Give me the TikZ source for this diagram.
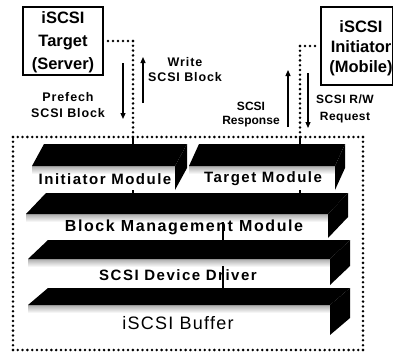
\documentclass[tikz,border=0pt]{standalone}
\usepackage{fontspec}
\setmainfont{Liberation Sans}
\newfontfamily\wideA[LetterSpace=10]{Liberation Sans}
\newfontfamily\wideB[LetterSpace=7]{Liberation Sans}
\newfontfamily\wideC[LetterSpace=4]{Liberation Sans}
\usetikzlibrary{arrows.meta}

% one layer block: left, right, top, bottom of the front face, then depth dx, dy
\newcommand\layerslab[6]{%
  \fill[white] (#1,#3) rectangle (#2,#4);
  \shade[top color=gray!65, bottom color=white] (#1,#3) rectangle (#2,{#3+8});
  \fill[black] (#1,#3) -- ({#1+#5},{#3-#6}) -- ({#2+#5},{#3-#6}) -- (#2,#3) -- cycle;
  \fill[black] (#2,#3) -- ({#2+#5},{#3-#6}) -- ({#2+#5},{#4-#6}) -- (#2,#4) -- cycle;
}

% a row of round dots from (#1,#2) to (#3,#4), #5 gaps
\newcommand\dotrow[5]{%
  \foreach \k in {0,...,#5}{
    \fill[black] ({#1+(#3-#1)/#5*\k},{#2+(#4-#2)/#5*\k}) circle (1.4pt);
  }%
}

\tikzset{
  flow/.style={line width=1.2pt, -{Triangle[length=6pt,width=5pt]}},
  stem/.style={line width=1.2pt},
  endbox/.style={draw, line width=1.5pt, inner sep=0pt},
  boxtext/.style={inner sep=0pt, align=center},
  slabtext/.style={inner sep=0pt, font=\wideA\bfseries\fontsize{15}{18}\selectfont},
  lab/.style={inner sep=0pt, align=center}
}

\begin{document}
\begin{tikzpicture}[x=1pt,y=-1pt]
\useasboundingbox (0,0) rectangle (393,353);
\fill[white] (0,0) rectangle (393,353);

% end points
\node[endbox, minimum width=80pt, minimum height=68pt] (tgt) at (63,41) {};
\node[boxtext, font=\bfseries\fontsize{16.5}{23}\selectfont] (tgttxt) at (63,42) {iSCSI\\Target\\(Server)};
\node[endbox, minimum width=71.5pt, minimum height=78pt] (ini) at (356.75,46) {};
\node[boxtext, font=\bfseries\fontsize{16.5}{20}\selectfont] (initxt) at (361,48) {iSCSI\\Initiator\\(Mobile)};

% the host frame, dotted
\dotrow{13}{137}{363}{137}{73}
\dotrow{363}{137}{363}{350}{44}
\dotrow{13}{350}{363}{350}{73}
\dotrow{13}{137}{13}{350}{44}

% dotted links entering the frame
\dotrow{108}{41}{133}{41}{5}
\dotrow{133}{41}{133}{137}{20}
\dotrow{315}{46}{300}{46}{3}
\dotrow{300}{46}{300}{137}{19}

\coordinate (sL0) at (133,137);
\coordinate (sL1) at (133,196);
\coordinate (sR0) at (300,137);
\coordinate (sR1) at (300,214);
\draw[stem] (sL0) -- (sL1);
\draw[stem] (sR0) -- (sR1);

% layers
\layerslab{32}{175}{166}{190}{12}{22}
\layerslab{189}{335}{166}{190}{10}{22}
\layerslab{26}{328}{214}{238}{20}{21}
\layerslab{28}{330}{259}{285}{20}{19}
\layerslab{28}{330}{305}{335}{20}{17}

\coordinate (sM0) at (223,222);
\coordinate (sM1) at (223,243);
\coordinate (sM2) at (223,266);
\coordinate (sM3) at (223,290);
\draw[stem] (sM0) -- (sM1);
\draw[stem] (sM2) -- (sM3);

\node[slabtext] (im) at (105,179) {Initiator Module};
\node[slabtext] (tm) at (263,179) {Target Module};
\node[slabtext, font=\wideA\bfseries\fontsize{16}{18}\selectfont] (bmm) at (184,227) {Block Management Module};
\node[slabtext] (sdd) at (178,275) {SCSI Device Driver};
\node[inner sep=0pt, font=\wideB\fontsize{18}{20}\selectfont] (buf) at (178,323) {iSCSI Buffer};

% transfer arrows
\coordinate (a1s) at (123,63);  \coordinate (a1e) at (123,119);
\coordinate (a2s) at (143,103); \coordinate (a2e) at (143,57);
\coordinate (a3s) at (288,127); \coordinate (a3e) at (288,70);
\coordinate (a4s) at (308,73);  \coordinate (a4e) at (308,128);
\draw[flow] (a1s) -- (a1e);
\draw[flow] (a2s) -- (a2e);
\draw[flow] (a3s) -- (a3e);
\draw[flow] (a4s) -- (a4e);

\node[lab, font=\wideB\bfseries\fontsize{12.5}{15}\selectfont] (wr) at (185,69.5) {Write\\SCSI Block};
\node[lab, font=\wideB\bfseries\fontsize{12.5}{16}\selectfont] (pf) at (68,105.5) {Prefech\\SCSI Block};
\node[lab, font=\bfseries\fontsize{12}{14}\selectfont] (rs) at (251,114.5) {SCSI\\Response};
\node[lab, font=\wideC\bfseries\fontsize{12}{17}\selectfont] (rq) at (345,109) {SCSI R/W\\Request};
\end{tikzpicture}
\end{document}
